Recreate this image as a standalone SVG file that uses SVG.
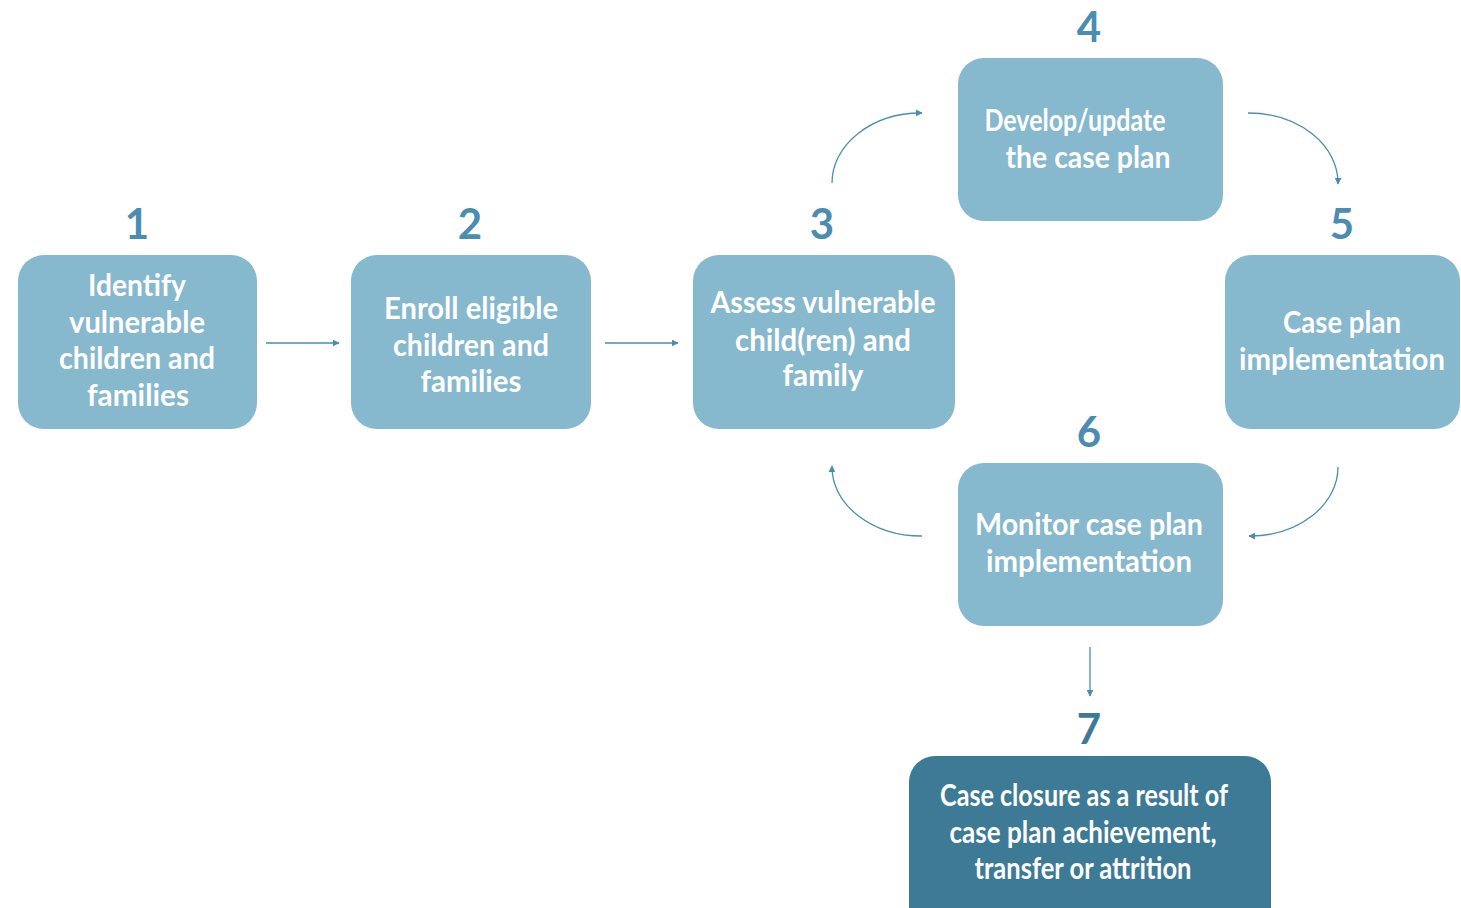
<svg xmlns="http://www.w3.org/2000/svg" width="1461" height="908" viewBox="0 0 1461 908">
<style>
.box{fill:#86B8CE}
.dark{fill:#3D7A96}
.t{font-family:Lato,"Open Sans","Liberation Sans",sans-serif;font-weight:bold;font-size:30px;fill:#ffffff;text-anchor:middle}
.n{font-family:Lato,"Open Sans","Liberation Sans",sans-serif;font-weight:bold;font-size:42px;fill:#4A8DB0;text-anchor:middle}
.n7{fill:#3D7A96}
.c{fill:none;stroke:#4A8DB0;stroke-width:1.3;marker-end:url(#ah)}
</style>
<defs>
<marker id="ah" viewBox="0 0 10 10" refX="9" refY="5" markerWidth="7" markerHeight="7" markerUnits="userSpaceOnUse" orient="auto">
<path d="M0,0 L10,5 L0,10 Z" fill="#4A8DB0"/>
</marker>
</defs>
<rect width="1461" height="908" fill="#ffffff"/>
<g id="connectors">
<path class="c" d="M266,343 L339,343"/>
<path class="c" d="M605,343 L678,343"/>
<path class="c" d="M832,183 A89,70 0 0 1 922,113"/>
<path class="c" d="M1248,113 A90,70 0 0 1 1338,184"/>
<path class="c" d="M1338,467 A88,69 0 0 1 1249,536"/>
<path class="c" d="M922,536 A90,69 0 0 1 832,466"/>
<path class="c" d="M1090,647 L1090,696"/>
</g>
<g id="node1">
<text class="n" x="137" y="239">1</text>
<rect class="box" x="18" y="255" width="239" height="174" rx="26"/>
<text class="t" x="137" y="296" textLength="98" lengthAdjust="spacingAndGlyphs">Identify</text>
<text class="t" x="137" y="333" textLength="136" lengthAdjust="spacingAndGlyphs">vulnerable</text>
<text class="t" x="137" y="369" textLength="156" lengthAdjust="spacingAndGlyphs">children and</text>
<text class="t" x="138" y="406" textLength="102" lengthAdjust="spacingAndGlyphs">families</text>
</g>
<g id="node2">
<text class="n" x="470" y="239">2</text>
<rect class="box" x="351" y="255" width="240" height="174" rx="26"/>
<text class="t" x="471" y="319" textLength="174" lengthAdjust="spacingAndGlyphs">Enroll eligible</text>
<text class="t" x="471" y="356" textLength="156" lengthAdjust="spacingAndGlyphs">children and</text>
<text class="t" x="471" y="392" textLength="101" lengthAdjust="spacingAndGlyphs">families</text>
</g>
<g id="node3">
<text class="n" x="822" y="239">3</text>
<rect class="box" x="693" y="255" width="262" height="174" rx="26"/>
<text class="t" x="823" y="313" textLength="225" lengthAdjust="spacingAndGlyphs">Assess vulnerable</text>
<text class="t" x="823" y="351" textLength="176" lengthAdjust="spacingAndGlyphs">child(ren) and</text>
<text class="t" x="823" y="386" textLength="81" lengthAdjust="spacingAndGlyphs">family</text>
</g>
<g id="node4">
<text class="n" x="1089" y="42">4</text>
<rect class="box" x="958" y="58" width="265" height="163" rx="26"/>
<text class="t" x="1075" y="131" textLength="181" lengthAdjust="spacingAndGlyphs">Develop/update</text>
<text class="t" x="1088" y="168" textLength="165" lengthAdjust="spacingAndGlyphs">the case plan</text>
</g>
<g id="node5">
<text class="n" x="1342" y="239">5</text>
<rect class="box" x="1225" y="255" width="235" height="174" rx="26"/>
<text class="t" x="1342" y="333" textLength="118" lengthAdjust="spacingAndGlyphs">Case plan</text>
<text class="t" x="1342" y="370" textLength="206" lengthAdjust="spacingAndGlyphs">implementation</text>
</g>
<g id="node6">
<text class="n" x="1089" y="447">6</text>
<rect class="box" x="958" y="463" width="265" height="163" rx="26"/>
<text class="t" x="1089" y="535" textLength="228" lengthAdjust="spacingAndGlyphs">Monitor case plan</text>
<text class="t" x="1089" y="572" textLength="206" lengthAdjust="spacingAndGlyphs">implementation</text>
</g>
<g id="node7">
<text class="n n7" x="1089" y="744">7</text>
<rect class="dark" x="909" y="756" width="362" height="180" rx="26"/>
<text class="t" x="1084" y="806" textLength="288" lengthAdjust="spacingAndGlyphs">Case closure as a result of</text>
<text class="t" x="1083" y="843" textLength="267" lengthAdjust="spacingAndGlyphs">case plan achievement,</text>
<text class="t" x="1083" y="879" textLength="217" lengthAdjust="spacingAndGlyphs">transfer or attrition</text>
</g>
</svg>
